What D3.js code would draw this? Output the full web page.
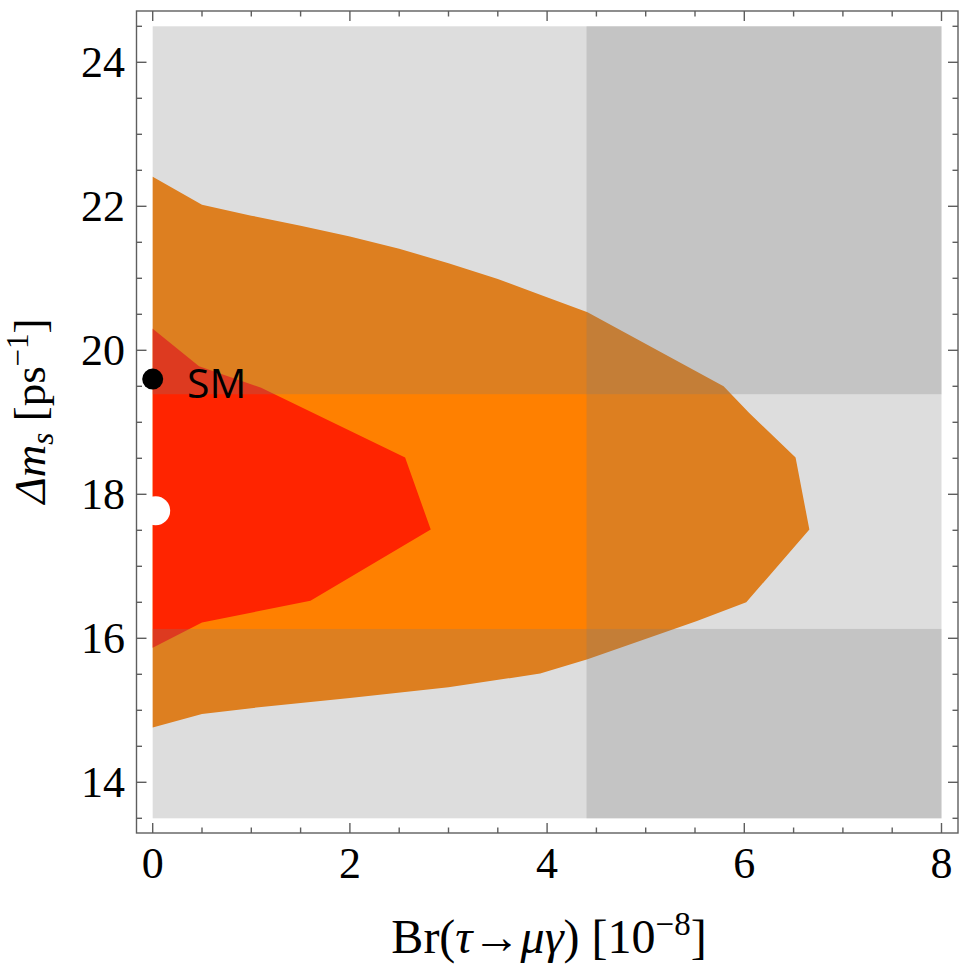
<!DOCTYPE html>
<html>
<head>
<meta charset="utf-8">
<script src="https://cdn.jsdelivr.net/npm/d3@7"></script>
<style>
  html, body { margin: 0; padding: 0; background: #fff; }
  svg { display: block; }
</style>
</head>
<body>
<svg id="chart" width="960" height="979"></svg>
<script>
// Br(tau -> mu gamma) in units of 1e-8, Delta m_s in ps^-1

// Outer allowed region (contour), traced clockwise from the top-left
const outerBr = [0, 0.5, 1.0, 1.5, 2.0, 2.5, 3.0, 3.5, 3.93, 4.41, 5.79, 6.05, 6.52, 6.66, 6.02, 5.52, 4.41, 3.93, 3.0, 2.0, 1.0, 0.5, 0];
const outerDm = [22.41, 22.02, 21.87, 21.73, 21.58, 21.41, 21.21, 20.99, 20.77, 20.53, 19.50, 19.13, 18.51, 17.51, 16.50, 16.24, 15.71, 15.51, 15.32, 15.17, 15.03, 14.95, 14.76];

// Inner allowed region (contour)
const innerBr = [0, 0.47, 1.1, 2.56, 2.82, 1.6, 0.5, 0];
const innerDm = [20.30, 19.78, 19.48, 18.51, 17.51, 16.52, 16.22, 15.87];

// Experimental constraints
const brLimit = 4.4;             // upper bound on Br
const dmBand = [16.13, 19.39];   // allowed Delta m_s range

// Reference points
const smPoint = { br: 0, dm: 19.6, label: "SM" };
const bestPoint = { br: 0.03, dm: 17.77 };

// Axis ticks
const xMajorTicks = [0, 2, 4, 6, 8];
const xMinorTicks = [0.5, 1, 1.5, 2.5, 3, 3.5, 4.5, 5, 5.5, 6.5, 7, 7.5];
const yMajorTicks = [14, 16, 18, 20, 22, 24];
const yMinorTicks = [13.5, 14.5, 15, 15.5, 16.5, 17, 17.5, 18.5, 19, 19.5, 20.5, 21, 21.5, 22.5, 23, 23.5, 24.5];

const xDomain = [0, 8];
const yDomain = [13.5, 24.5];

const svg = d3.select("#chart");

const x = d3.scaleLinear().domain(xDomain).range([152.7, 941.5]);
const y = d3.scaleLinear().domain(yDomain).range([818.3, 26.3]);

// Frame extends a little beyond the plotted range
const frame = { left: 136.5, right: 958, top: 11, bottom: 833 };

const colors = {
  orange: "#ff8000",
  red: "#ff2400",
  shade: "rgb(122,122,122)",
  shadeOpacity: 0.26,
  frame: "#5e5e5e"
};

const polyLine = d3.line().x(d => x(d[0])).y(d => y(d[1]));

// Contour regions
const outer = outerBr.map((b, i) => [b, outerDm[i]]);
const inner = innerBr.map((b, i) => [b, innerDm[i]]);

svg.append("path")
  .attr("d", polyLine(outer) + "Z")
  .attr("fill", colors.orange);

svg.append("path")
  .attr("d", polyLine(inner) + "Z")
  .attr("fill", colors.red);

// Excluded regions shaded on top
const shades = [
  { x0: xDomain[0], x1: xDomain[1], y0: yDomain[0], y1: dmBand[0] },
  { x0: xDomain[0], x1: xDomain[1], y0: dmBand[1], y1: yDomain[1] },
  { x0: brLimit, x1: xDomain[1], y0: yDomain[0], y1: yDomain[1] }
];

svg.append("g").selectAll("rect")
  .data(shades)
  .join("rect")
  .attr("x", d => x(d.x0))
  .attr("width", d => x(d.x1) - x(d.x0))
  .attr("y", d => y(d.y1))
  .attr("height", d => y(d.y0) - y(d.y1))
  .attr("fill", colors.shade)
  .attr("fill-opacity", colors.shadeOpacity);

// Points
svg.append("circle")
  .attr("cx", x(bestPoint.br)).attr("cy", y(bestPoint.dm))
  .attr("r", 14.5).attr("fill", "#fff");

svg.append("circle")
  .attr("cx", x(smPoint.br)).attr("cy", y(smPoint.dm))
  .attr("r", 10.5).attr("fill", "#000");

svg.append("text")
  .attr("x", 187).attr("y", y(smPoint.dm) + 19)
  .attr("font-family", "'Open Sans', sans-serif")
  .attr("font-size", 41)
  .attr("fill", "#000")
  .text(smPoint.label);

// Frame
const gFrame = svg.append("g")
  .attr("stroke", colors.frame)
  .attr("stroke-width", 1.4)
  .attr("fill", "none");

gFrame.append("rect")
  .attr("x", frame.left).attr("y", frame.top)
  .attr("width", frame.right - frame.left)
  .attr("height", frame.bottom - frame.top);

const majorLen = 10, minorLen = 5.5;

function xTicksOn(values, len) {
  values.forEach(v => {
    gFrame.append("line").attr("x1", x(v)).attr("x2", x(v))
      .attr("y1", frame.bottom).attr("y2", frame.bottom - len);
    gFrame.append("line").attr("x1", x(v)).attr("x2", x(v))
      .attr("y1", frame.top).attr("y2", frame.top + len);
  });
}
function yTicksOn(values, len) {
  values.forEach(v => {
    gFrame.append("line").attr("y1", y(v)).attr("y2", y(v))
      .attr("x1", frame.left).attr("x2", frame.left + len);
    gFrame.append("line").attr("y1", y(v)).attr("y2", y(v))
      .attr("x1", frame.right).attr("x2", frame.right - len);
  });
}
xTicksOn(xMajorTicks, majorLen);
xTicksOn(xMinorTicks, minorLen);
yTicksOn(yMajorTicks, majorLen);
yTicksOn(yMinorTicks, minorLen);

// Tick labels
const serif = "'Liberation Serif', 'Times New Roman', serif";
const tickFont = 44;

svg.append("g").selectAll("text")
  .data(xMajorTicks)
  .join("text")
  .attr("x", d => x(d))
  .attr("y", 878)
  .attr("text-anchor", "middle")
  .attr("font-family", serif)
  .attr("font-size", tickFont)
  .attr("fill", "#000")
  .text(d => d);

svg.append("g").selectAll("text")
  .data(yMajorTicks)
  .join("text")
  .attr("x", 125)
  .attr("y", d => y(d) + 15)
  .attr("text-anchor", "end")
  .attr("font-family", serif)
  .attr("font-size", tickFont)
  .attr("fill", "#000")
  .text(d => d);

// Axis titles
const xTitle = svg.append("text")
  .attr("x", 549)
  .attr("y", 953)
  .attr("text-anchor", "middle")
  .attr("font-family", serif)
  .attr("font-size", 48)
  .attr("fill", "#000");
xTitle.append("tspan").text("Br(");
xTitle.append("tspan").attr("font-style", "italic").text("τ");
xTitle.append("tspan").text("→");
xTitle.append("tspan").attr("font-style", "italic").text("μγ");
xTitle.append("tspan").text(") [10");
xTitle.append("tspan").attr("dy", -18).attr("font-size", 33).text("−8");
xTitle.append("tspan").attr("dy", 18).text("]");

const yTitle = svg.append("text")
  .attr("transform", `translate(45, 411) rotate(-90)`)
  .attr("text-anchor", "middle")
  .attr("font-family", serif)
  .attr("font-size", 45)
  .attr("fill", "#000");
yTitle.append("tspan").attr("font-style", "italic").text("Δm");
yTitle.append("tspan").attr("font-style", "italic").attr("dy", 8).attr("font-size", 31).text("s");
yTitle.append("tspan").attr("dy", -8).text(" [ps");
yTitle.append("tspan").attr("dy", -17).attr("font-size", 31).text("−1");
yTitle.append("tspan").attr("dy", 17).text("]");
</script>
</body>
</html>
